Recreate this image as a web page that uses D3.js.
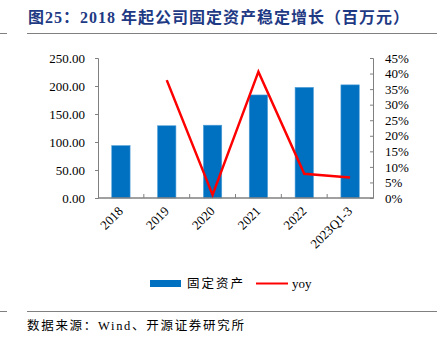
<!DOCTYPE html>
<html><head><meta charset="utf-8">
<script src="https://cdn.jsdelivr.net/npm/d3@7"></script>
<style>body{margin:0;background:#fff}svg{display:block}</style>
</head><body>
<script>
const categories = ["2018","2019","2020","2021","2022","2023Q1-3"];
const assets = [93.5, 129, 130, 184, 197.5, 202];
const yoy = [null, 37.9, 1.0, 40.6, 7.8, 6.6];
const leftTicks = [0,50,100,150,200,250];
const rightTicks = [0,5,10,15,20,25,30,35,40,45];

const W=441,H=348;
const svg=d3.select("body").append("svg").attr("width",W).attr("height",H);
const serif='"Liberation Serif","Times New Roman","Noto Sans CJK SC",serif';
const m={l:98,r:373,t:58,b:198};

// title
svg.append("text").attr("x",28).attr("y",23).attr("fill","#1f3a84")
 .attr("font-family",serif).attr("font-weight","bold").attr("font-size",16).attr("letter-spacing",1)
 .text("图25：2018 年起公司固定资产稳定增长（百万元）");
svg.append("line").attr("x1",27).attr("x2",437).attr("y1",33.5).attr("y2",33.5).attr("stroke","#808080").attr("stroke-width",1);
svg.append("line").attr("x1",0).attr("x2",7).attr("y1",33.5).attr("y2",33.5).attr("stroke","#808080").attr("stroke-width",1);

const x=d3.scaleBand().domain(categories).range([m.l,m.r]).paddingInner(0.6).paddingOuter(0.3);
const xb=d3.scaleBand().domain(categories).range([m.l,m.r]);
const yL=d3.scaleLinear().domain([0,250]).range([m.b,m.t]);
const yR=d3.scaleLinear().domain([0,45]).range([m.b,m.t]);

// bars
svg.append("g").selectAll("rect").data(assets).join("rect")
 .attr("x",(d,i)=>x(categories[i])).attr("width",x.bandwidth())
 .attr("y",d=>yL(d)).attr("height",d=>yL(0)-yL(d)).attr("fill","#0070c0")
 .attr("stroke","#4f9fd8").attr("stroke-width",0.6);

// left axis
const gL=svg.append("g").attr("transform",`translate(${m.l},0)`)
 .call(d3.axisLeft(yL).tickValues(leftTicks).tickFormat(d3.format(".2f")).tickSize(3).tickPadding(10));
// right axis
const gR=svg.append("g").attr("transform",`translate(${m.r},0)`)
 .call(d3.axisRight(yR).tickValues(rightTicks).tickFormat(d=>d+"%").tickSize(-3).tickPadding(12));
[gL,gR].forEach(g=>{g.select(".domain").attr("stroke","#808080");g.selectAll(".tick line").attr("stroke","#808080");
 g.selectAll("text").attr("font-family",serif).attr("font-size",13).attr("fill","#000");});

// bottom axis
const gB=svg.append("g").attr("transform",`translate(0,${m.b})`);
gB.append("line").attr("x1",m.l).attr("x2",m.r).attr("stroke","#808080").attr("stroke-width",1.5);
const bounds=categories.slice(1).map(c=>xb(c));
gB.selectAll(".bt").data(bounds).join("line").attr("x1",d=>d).attr("x2",d=>d).attr("y1",0).attr("y2",-4).attr("stroke","#808080");
gB.selectAll(".lbl").data(categories).join("text")
 .attr("transform",d=>`translate(${xb(d)+xb.bandwidth()/2+3},${14}) rotate(-45)`)
 .attr("text-anchor","end").attr("font-family",serif).attr("font-size",13).attr("fill","#000").text(d=>d);

// line
const line=d3.line().defined(d=>d!=null).x((d,i)=>xb(categories[i])+xb.bandwidth()/2).y(d=>yR(d));
svg.append("path").datum(yoy).attr("d",line).attr("fill","none").attr("stroke","#ff0000").attr("stroke-width",2.5);

// legend
svg.append("rect").attr("x",150).attr("y",280).attr("width",31).attr("height",7).attr("fill","#0070c0");
svg.append("text").attr("x",187).attr("y",288).attr("font-family",serif).attr("font-size",12.5).attr("letter-spacing",2).text("固定资产");
svg.append("line").attr("x1",256).attr("x2",288).attr("y1",283.5).attr("y2",283.5).attr("stroke","#ff0000").attr("stroke-width",2);
svg.append("text").attr("x",292).attr("y",288).attr("font-family",serif).attr("font-size",13).text("yoy");

// footer
svg.append("line").attr("x1",27).attr("x2",437).attr("y1",311.5).attr("y2",311.5).attr("stroke","#808080").attr("stroke-width",1);
svg.append("line").attr("x1",0).attr("x2",7).attr("y1",311.5).attr("y2",311.5).attr("stroke","#808080").attr("stroke-width",1);
svg.append("text").attr("x",27).attr("y",330).attr("font-family",serif).attr("font-size",12.5).attr("letter-spacing",1.7).text("数据来源：Wind、开源证券研究所");
</script>
</body></html>
